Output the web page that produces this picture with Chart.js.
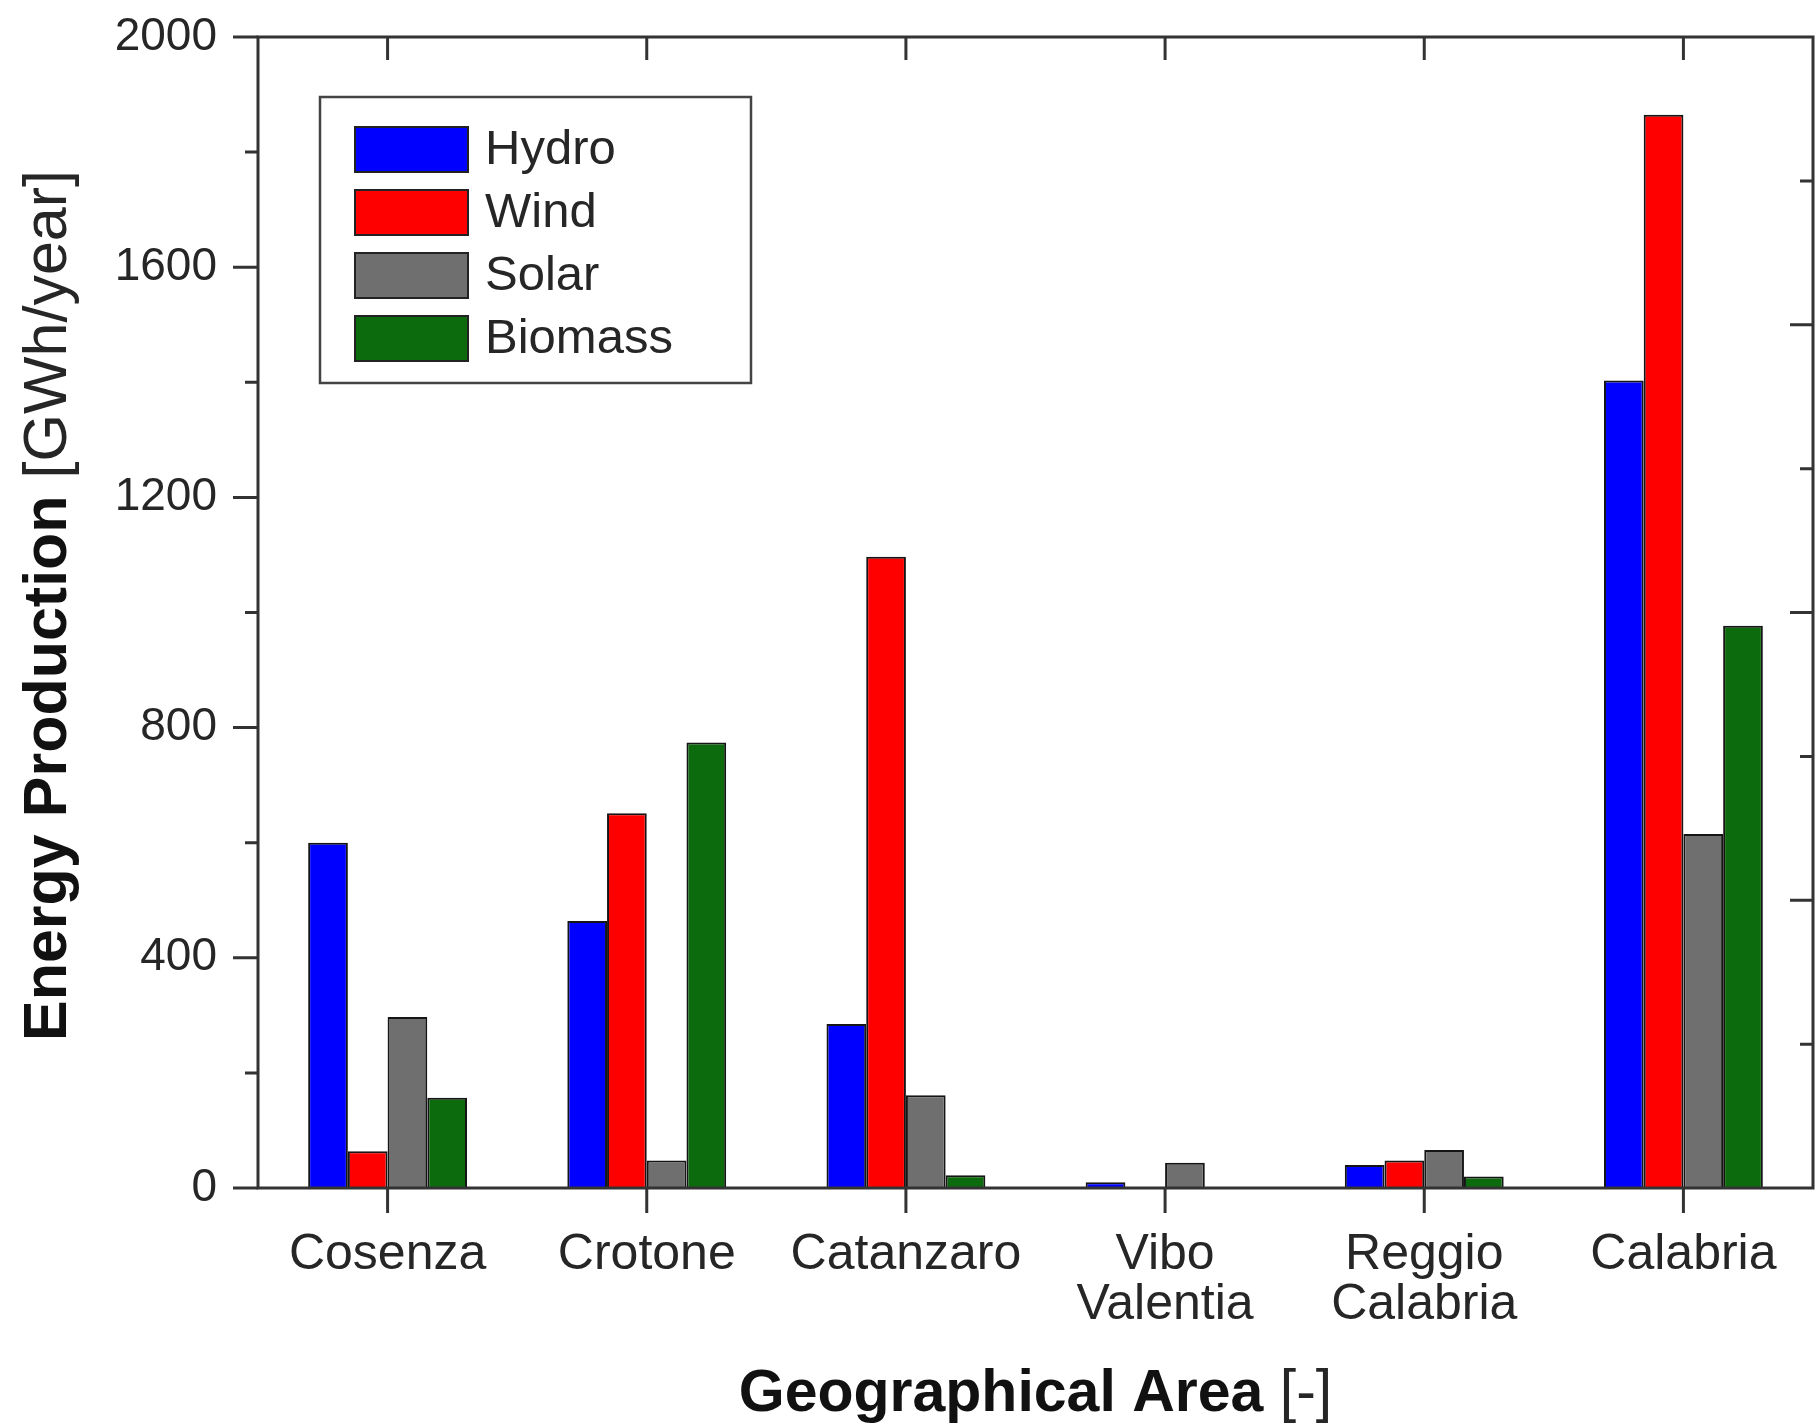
<!DOCTYPE html>
<html>
<head>
<meta charset="utf-8">
<title>Energy Production by Area</title>
<script src="https://cdn.jsdelivr.net/npm/chart.js@4.4.1/dist/chart.umd.min.js"></script>
<style>
  html, body { margin: 0; padding: 0; background: #fff; }
  #wrap { width: 1818px; height: 1427px; position: relative; }
</style>
</head>
<body>
<div id="wrap"><canvas id="energyChart"></canvas></div>
<script>
// Areas on the x axis (multi-line names as arrays)
const areas = ['Cosenza', 'Crotone', 'Catanzaro', ['Vibo', 'Valentia'], ['Reggio', 'Calabria'], 'Calabria'];

// GWh/year per source
const hydro   = [600, 464, 285, 10, 40, 1403];
const wind    = [64, 651, 1097, 0, 48, 1865];
const solar   = [297, 48, 161, 44, 66, 615];
const biomass = [157, 774, 22, 0, 20, 977];

const yTicks = [0, 400, 800, 1200, 1600, 2000];

const FONT = "'Liberation Sans', Arial, sans-serif";
const TEXT = '#262626';
const AXIS = '#333333';

// Frame with mirrored ticks, axis titles and boxed legend
const framePlugin = {
  id: 'frame',
  afterDatasetsDraw(chart) {
    const { ctx, chartArea: a, scales: { x, y } } = chart;
    ctx.save();
    ctx.strokeStyle = AXIS;
    ctx.lineWidth = 3;
    ctx.strokeRect(a.left, a.top, a.right - a.left, a.bottom - a.top);

    ctx.beginPath();
    // left axis: long ticks on labelled values, short ones half-way, outward
    for (let v = 0; v <= 2000; v += 200) {
      const py = y.getPixelForValue(v);
      const len = v % 400 === 0 ? 25 : 13;
      ctx.moveTo(a.left - len, py);
      ctx.lineTo(a.left, py);
    }
    // right axis: every 250, inward
    for (let v = 250; v < 2000; v += 250) {
      const py = y.getPixelForValue(v);
      const len = v % 500 === 0 ? 23 : 13;
      ctx.moveTo(a.right, py);
      ctx.lineTo(a.right - len, py);
    }
    // top (inward) and bottom (outward) ticks at each area
    areas.forEach((_, i) => {
      const px = x.getPixelForValue(i);
      ctx.moveTo(px, a.top);
      ctx.lineTo(px, a.top + 23);
      ctx.moveTo(px, a.bottom);
      ctx.lineTo(px, a.bottom + 25);
    });
    ctx.stroke();

    // axis titles: bold name + regular unit
    const drawTitle = (bold, normal, size, cx, cy, rot) => {
      ctx.save();
      ctx.translate(cx, cy);
      ctx.rotate(rot);
      ctx.textBaseline = 'middle';
      ctx.textAlign = 'left';
      ctx.font = `bold ${size}px ${FONT}`;
      const wb = ctx.measureText(bold).width;
      ctx.font = `${size}px ${FONT}`;
      const wn = ctx.measureText(normal).width;
      const sx = -(wb + wn) / 2;
      ctx.font = `bold ${size}px ${FONT}`;
      ctx.fillStyle = '#111';
      ctx.fillText(bold, sx, 0);
      ctx.font = `${size}px ${FONT}`;
      ctx.fillStyle = TEXT;
      ctx.fillText(normal, sx + wb, 0);
      ctx.restore();
    };
    drawTitle('Energy Production ', '[GWh/year]', 61, 49, (a.top + a.bottom) / 2 - 7, -Math.PI / 2);
    drawTitle('Geographical Area ', '[-]', 59, (a.left + a.right) / 2, 1395, 0);

    // legend box
    const lx = 320, ly = 97, lw = 431, lh = 286;
    ctx.lineWidth = 2.5;
    ctx.strokeStyle = '#444';
    ctx.strokeRect(lx, ly, lw, lh);
    ctx.font = '49px ' + FONT;
    ctx.textBaseline = 'middle';
    ctx.textAlign = 'left';
    chart.data.datasets.forEach((ds, i) => {
      const sy = 127 + i * 63;
      ctx.fillStyle = ds.backgroundColor;
      ctx.fillRect(355, sy, 113, 45);
      ctx.lineWidth = 2;
      ctx.strokeStyle = '#222';
      ctx.strokeRect(355, sy, 113, 45);
      ctx.fillStyle = TEXT;
      ctx.fillText(ds.label, 485, sy + 23);
    });
    ctx.restore();
  }
};

const barStyle = { borderColor: '#151515', borderWidth: 2, borderSkipped: 'start' };

new Chart(document.getElementById('energyChart'), {
  type: 'bar',
  data: {
    labels: areas,
    datasets: [
      { label: 'Hydro',   data: hydro,   backgroundColor: '#0000ff', ...barStyle },
      { label: 'Wind',    data: wind,    backgroundColor: '#ff0000', ...barStyle },
      { label: 'Solar',   data: solar,   backgroundColor: '#6f6f6f', ...barStyle },
      { label: 'Biomass', data: biomass, backgroundColor: '#0c6b0c', ...barStyle },
    ],
  },
  options: {
    responsive: true,
    maintainAspectRatio: false,
    animation: false,
    layout: { padding: { top: 37, right: 5, left: 0, bottom: 0 } },
    datasets: { bar: { categoryPercentage: 0.613, barPercentage: 1 } },
    plugins: {
      legend: { display: false },
      tooltip: { enabled: false },
    },
    scales: {
      x: {
        grid: { display: false },
        border: { display: false },
        ticks: {
          color: TEXT,
          padding: 34,
          maxRotation: 0,
          font: { family: FONT, size: 50, lineHeight: 1.0 },
        },
        afterFit(scale) {
          scale.height = 239;
          scale.paddingLeft = 0;
          scale.paddingRight = 0;
        },
      },
      y: {
        min: 0,
        max: 2000,
        grid: { display: false },
        border: { display: false },
        afterBuildTicks(scale) { scale.ticks = yTicks.map(v => ({ value: v })); },
        ticks: {
          color: TEXT,
          padding: 33,
          font: { family: FONT, size: 46 },
          callback: v => String(v),
        },
        afterFit(scale) {
          scale.width = 258;
          scale.paddingTop = 0;
          scale.paddingBottom = 0;
        },
      },
    },
  },
  plugins: [framePlugin],
});
</script>
</body>
</html>
